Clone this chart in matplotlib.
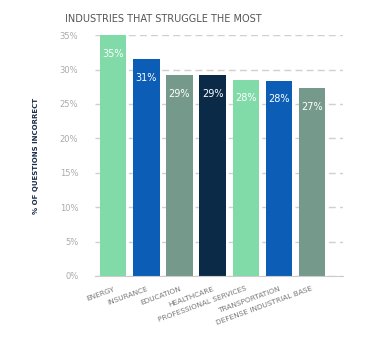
import numpy as np
import matplotlib.pyplot as plt

# data
industries = ["ENERGY", "INSURANCE", "EDUCATION", "HEALTHCARE",
              "PROFESSIONAL SERVICES", "TRANSPORTATION", "DEFENSE INDUSTRIAL BASE"]
pct = [35.0, 31.5, 29.2, 29.2, 28.5, 28.4, 27.3]
shown = ["35%", "31%", "29%", "29%", "28%", "28%", "27%"]
yticks = [0, 5, 10, 15, 20, 25, 30, 35]

colors = ["#80dba8", "#0b5db6", "#75998b", "#0b2a48", "#80dba8", "#0b5db6", "#75998b"]

fig = plt.figure(figsize=(3.68, 3.48), dpi=100)
ax = fig.add_axes([0.258, 0.207, 0.674, 0.692])

x = np.arange(len(industries))
ax.set_axisbelow(True)
ax.yaxis.grid(True, color="#d0d0d0", linestyle=(0, (5, 3)), linewidth=1)
ax.bar(x, pct, width=0.79, color=colors)

for xi, v, s in zip(x, pct, shown):
    ax.text(xi, v - 2.7, s, color="white", ha="center", va="center", fontsize=7)

ax.set_ylim(0, 35)
ax.set_xlim(-0.56, 6.95)
ax.set_yticks(yticks)
ax.set_yticklabels([f"{t}%" for t in yticks], fontsize=6, color="#aaaaaa")
ax.tick_params(axis="y", length=0, pad=12)
ax.set_xticks(x)
ax.set_xticklabels(industries, rotation=20, ha="right", rotation_mode="anchor",
                   fontsize=5.3, color="#777777")
ax.tick_params(axis="x", length=0, pad=7)

for side in ["top", "right", "left"]:
    ax.spines[side].set_visible(False)
ax.spines["bottom"].set_color("#cccccc")

ax.set_ylabel("% OF QUESTIONS INCORRECT", fontsize=5, fontweight="bold",
              color="#1c2e4a", labelpad=15)

fig.text(65 / 368, 1 - 19 / 348, "INDUSTRIES THAT STRUGGLE THE MOST",
         fontsize=7, fontweight="medium", color="#555555", va="center", ha="left")

fig.savefig("out.png", dpi=100)
